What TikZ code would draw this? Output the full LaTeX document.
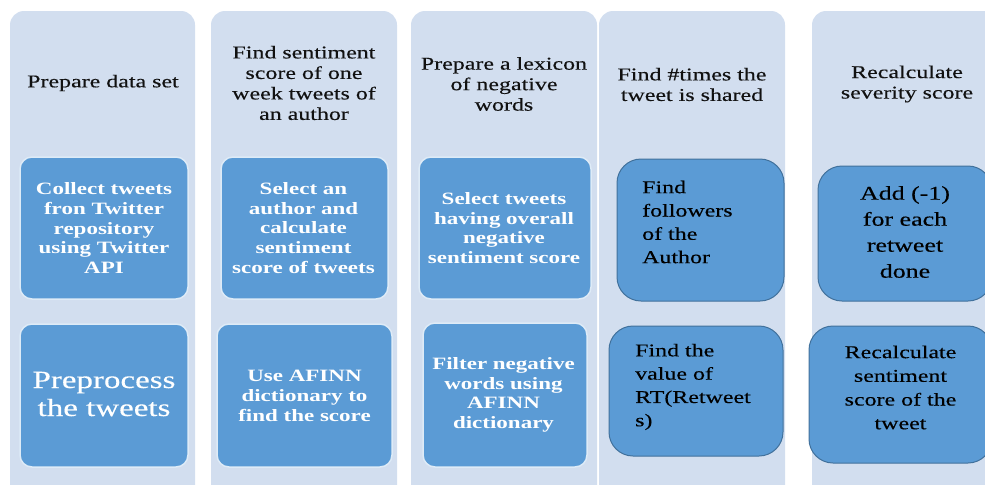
\documentclass[tikz,border=0pt]{standalone}
\usepackage{fontspec}
\setmainfont{Liberation Serif}[FakeStretch=1.33, UprightFeatures={FakeBold=0.3}]
\definecolor{colbg}{HTML}{D2DEEF}
\definecolor{boxfill}{HTML}{5B9BD5}
\definecolor{boxedge}{HTML}{41719C}
\definecolor{hdrtext}{HTML}{111111}
\begin{document}
\begin{tikzpicture}[x=1pt,y=-1pt,
  column/.style={fill=colbg, draw=none, rounded corners=14pt, inner sep=0pt, minimum height=499pt},
  hdr/.style={align=center, text=hdrtext, inner sep=0pt, font=\fontsize{18}{20.5}\selectfont},
  wbox/.style={fill=boxfill, draw=white!80!boxfill, line width=1.5pt, rounded corners=12pt, inner sep=0pt},
  dbox/.style={fill=boxfill, draw=boxedge, line width=1pt, rounded corners=24pt, inner sep=0pt},
  wtext/.style={align=center, text=white, inner sep=0pt, font=\bfseries\fontsize{17.3}{19.7}\selectfont},
  bigtext/.style={align=center, text=white, inner sep=0pt, font=\fontsize{24.8}{28}\selectfont},
  ltext/.style={align=left, anchor=west, text=black, inner sep=0pt, font=\fontsize{18}{23.3}\selectfont},
  ctext/.style={align=center, text=black, inner sep=0pt, font=\fontsize{18}{23.7}\selectfont},
  addtext/.style={align=center, text=black, inner sep=0pt, font=\fontsize{19.5}{26}\selectfont}]
\useasboundingbox (0,0) rectangle (985,485);
\begin{scope}
  \clip (0,0) rectangle (985,484);
  \node[column, minimum width=185pt] (c1) at (102.5,260.5) {};
  \node[column, minimum width=186pt] (c2) at (304,260.5) {};
  \node[column, minimum width=186pt] (c3) at (504,260.5) {};
  \node[column, minimum width=186pt] (c4) at (692,260.5) {};
  \node[column, minimum width=186pt] (c5) at (905,260.5) {};
\end{scope}
% headers
\node[hdr] (h1) at (103,83) {Prepare data set};
\node[hdr] (h2) at (304,83) {Find sentiment\\score of one\\week tweets of\\an author};
\node[hdr] (h3) at (504,84) {Prepare a lexicon\\of negative\\words};
\node[hdr] (h4) at (692,84.5) {Find \#times the\\tweet is shared};
\node[hdr] (h5) at (907,84) {Recalculate\\severity score};
% boxes
\node[wbox, minimum width=168pt, minimum height=142pt] (b11) at (104,228) {};
\node[wbox, minimum width=168pt, minimum height=143pt] (b12) at (104,395.5) {};
\node[wbox, minimum width=167pt, minimum height=142pt] (b21) at (304.5,228) {};
\node[wbox, minimum width=175pt, minimum height=143pt] (b22) at (304.5,395.5) {};
\node[wbox, minimum width=172pt, minimum height=142pt] (b31) at (505,228) {};
\node[wbox, minimum width=164pt, minimum height=144pt] (b32) at (505,395) {};
\node[dbox, minimum width=167pt, minimum height=142pt] (b41) at (700.5,230) {};
\node[dbox, minimum width=174pt, minimum height=130pt] (b42) at (696,391) {};
\node[dbox, minimum width=174pt, minimum height=135pt] (b51) at (905,233.5) {};
\node[dbox, minimum width=183pt, minimum height=137pt] (b52) at (900.5,394.5) {};
% box texts
\node[wtext] (t11) at (104,228) {Collect tweets\\fron Twitter\\repository\\using Twitter\\API};
\node[bigtext] (t12) at (104,394) {Preprocess\\the tweets};
\node[wtext] (t21) at (303.5,228) {Select an\\author and\\calculate\\sentiment\\score of tweets};
\node[wtext] (t22) at (304.5,396) {Use AFINN\\dictionary to\\find the score};
\node[wtext] (t31) at (504,228) {Select tweets\\having overall\\negative\\sentiment score};
\node[wtext] (t32) at (503.5,395) {Filter negative\\words using\\AFINN\\dictionary};
\node[ltext] (t41) at (642,222) {Find\\followers\\of the\\Author};
\node[ltext] (t42) at (635,387) {Find the\\value of\\RT(Retweet\\s)};
\node[addtext] (t51) at (905,232) {Add (-1)\\for each\\retweet\\done};
\node[ctext] (t52) at (900.5,387.5) {Recalculate\\sentiment\\score of the\\tweet};
\end{tikzpicture}
\end{document}
